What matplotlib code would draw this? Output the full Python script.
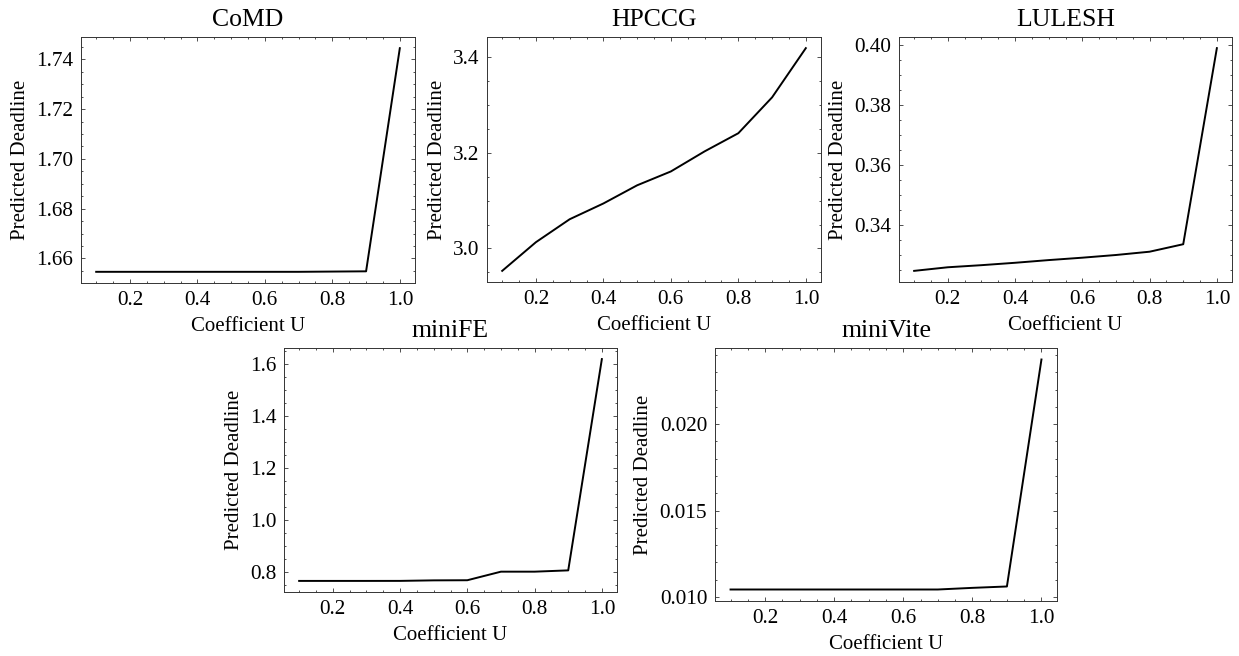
import matplotlib
matplotlib.use('Agg')
import matplotlib.pyplot as plt

plt.rcParams['font.family'] = ['Liberation Serif', 'DejaVu Serif']
plt.rcParams['xtick.direction'] = 'in'
plt.rcParams['ytick.direction'] = 'in'
plt.rcParams['xtick.top'] = True
plt.rcParams['ytick.right'] = True
plt.rcParams['xtick.minor.visible'] = True
plt.rcParams['ytick.minor.visible'] = True
plt.rcParams['xtick.major.size'] = 3
plt.rcParams['ytick.major.size'] = 3
plt.rcParams['xtick.minor.size'] = 1.5
plt.rcParams['ytick.minor.size'] = 1.5
plt.rcParams['xtick.major.width'] = 0.6
plt.rcParams['ytick.major.width'] = 0.6
plt.rcParams['xtick.minor.width'] = 0.6
plt.rcParams['ytick.minor.width'] = 0.6
plt.rcParams['axes.linewidth'] = 0.7
plt.rcParams['axes.edgecolor'] = '#333333'
plt.rcParams['xtick.color'] = '#333333'
plt.rcParams['ytick.color'] = '#333333'
plt.rcParams['xtick.labelcolor'] = 'black'
plt.rcParams['ytick.labelcolor'] = 'black'

# coefficient U
u = [0.1, 0.2, 0.3, 0.4, 0.5, 0.6, 0.7, 0.8, 0.9, 1.0]

comd = [1.6546, 1.6546, 1.6546, 1.6546, 1.6546, 1.6546, 1.6546, 1.6547, 1.6548, 1.7445]
hpccg = [2.953, 3.013, 3.061, 3.094, 3.132, 3.161, 3.203, 3.241, 3.316, 3.419]
lulesh = [0.3247, 0.3259, 0.3266, 0.3274, 0.3283, 0.3291, 0.3300, 0.3311, 0.3336, 0.3991]
minife = [0.7644, 0.7644, 0.7644, 0.7645, 0.7665, 0.767, 0.800, 0.800, 0.805, 1.619]
minivite = [0.010425, 0.010425, 0.010425, 0.010425, 0.010425, 0.010425, 0.010425, 0.01052, 0.0106, 0.02375]

names = ['CoMD', 'HPCCG', 'LULESH', 'miniFE', 'miniVite']
series = [comd, hpccg, lulesh, minife, minivite]

W, H = 1239, 656
fig = plt.figure(figsize=(W / 100, H / 100), dpi=100)

# axes boxes in pixels: left, right, top, bottom
boxes = [
    (81, 415, 37, 283),
    (487, 821, 37, 282),
    (899, 1232, 37, 282),
    (284, 617, 348, 592),
    (715, 1057, 348, 601),
]

for name, ys, (l, r, t, b) in zip(names, series, boxes):
    ax = fig.add_axes([l / W, 1 - b / H, (r - l) / W, (b - t) / H])
    ax.plot(u, ys, color='black', linewidth=1.4)
    ax.set_title(name, fontsize=18.5, pad=8)
    ax.set_xlabel('Coefficient U', fontsize=15, labelpad=5)
    ax.set_ylabel('Predicted Deadline', fontsize=15, labelpad=4.5)
    ax.tick_params(labelsize=15.3, pad=5.5)
    ax.set_xticks([0.2, 0.4, 0.6, 0.8, 1.0])

plt.savefig('out.png', dpi=100)
